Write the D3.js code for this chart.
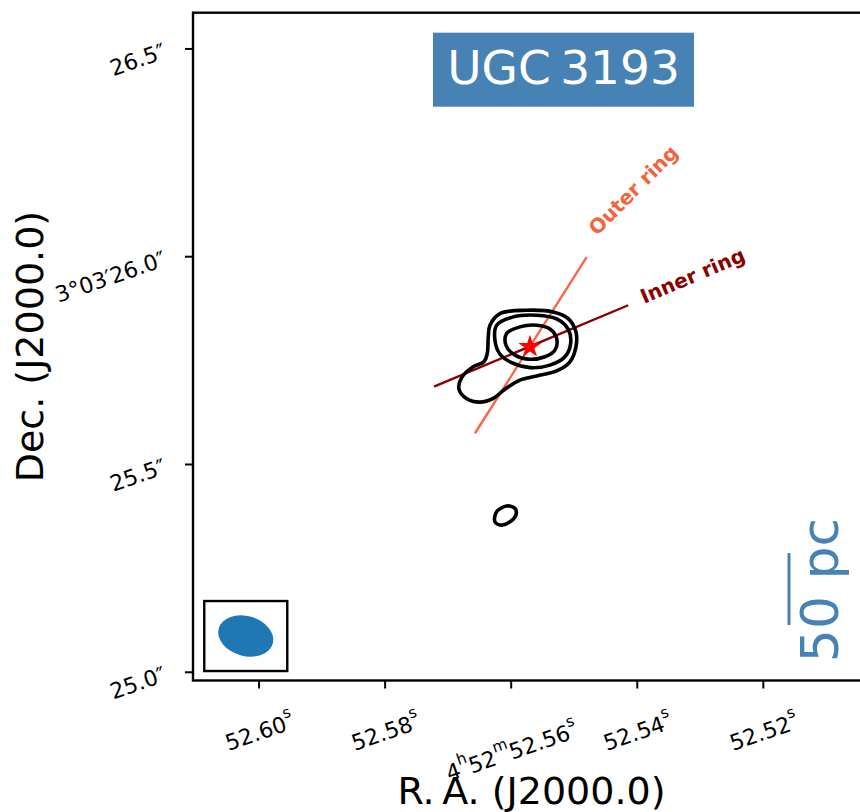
<!DOCTYPE html>
<html>
<head>
<meta charset="utf-8">
<script src="https://cdn.jsdelivr.net/npm/d3@7/dist/d3.min.js"></script>
<style>
  body { margin: 0; background: #ffffff; }
  text { font-family: "DejaVu Sans", sans-serif; }
</style>
</head>
<body>
<svg id="chart" width="860" height="812"></svg>
<script>
// ---- Coordinates: R.A. in seconds of 4h52m, Dec in arcsec of +3°03′ ----
const raTicks = [52.60, 52.58, 52.56, 52.54, 52.52];
const raTickLabels = ["52.60^s", "52.58^s", "4^h52^m52.56^s", "52.54^s", "52.52^s"];
const decTicks = [25.0, 25.5, 26.0, 26.5];
const decTickLabels = ["25.0″", "25.5″", "3°03′26.0″", "26.5″"];

// Axis limits
const raLimits = [52.6104, 52.5030];
const decLimits = [24.979, 26.586];

// Contours, lowest level first: [R.A. s, Dec ″]
const contourOuter = [
  [52.56356, 25.806], [52.56329, 25.834], [52.56170, 25.862], [52.55747, 25.870],
  [52.55325, 25.866], [52.55087, 25.850], [52.54965, 25.818], [52.54965, 25.782],
  [52.55060, 25.746], [52.55271, 25.724], [52.55588, 25.712], [52.55853, 25.702],
  [52.56091, 25.680], [52.56277, 25.658], [52.56487, 25.649], [52.56698, 25.657],
  [52.56821, 25.680], [52.56778, 25.708], [52.56594, 25.734], [52.56424, 25.746],
  [52.56372, 25.766]
];
const contourMiddle = [
  [52.56223, 25.834], [52.55959, 25.854], [52.55588, 25.858], [52.55271, 25.849],
  [52.55087, 25.824], [52.55049, 25.790], [52.55140, 25.758], [52.55377, 25.738],
  [52.55695, 25.732], [52.55985, 25.744], [52.56170, 25.764], [52.56250, 25.798]
];
const contourInner = [
  [52.56064, 25.814], [52.55853, 25.830], [52.55588, 25.834], [52.55377, 25.825],
  [52.55271, 25.802], [52.55298, 25.774], [52.55457, 25.758], [52.55695, 25.752],
  [52.55932, 25.762], [52.56075, 25.786]
];
const contourSouth = [
  [52.56250, 25.361], [52.56223, 25.385], [52.56064, 25.399], [52.55932, 25.393],
  [52.55917, 25.377], [52.56012, 25.361], [52.56143, 25.353]
];

// Nucleus position
const nucleus = [52.55695, 25.782];

// Major-axis position angles of the two rings
const innerRingAxis = [[52.57217, 25.686], [52.54136, 25.882]];
const outerRingAxis = [[52.56567, 25.574], [52.54795, 25.998]];
const ringLabels = [
  { text: "Inner ring", ra: 52.53887, dec: 25.885, angle: 23 },
  { text: "Outer ring", ra: 52.54632, dec: 26.048, angle: 45 }
];

// Synthesized beam (FWHM in arcsec, rotation in degrees) and its position
const beam = { major: 0.135, minor: 0.096, angle: 16, ra: 52.60203, dec: 25.086 };

// Scale bar: 50 pc in arcsec
const scaleBar = { label: "50 pc", arcsec: 0.173 };

const title = "UGC\u20093193";

// ---- Drawing ----
const svg = d3.select("#chart");
const W = 860, H = 812;
const frame = { left: 193, right: 870, top: 12.7, bottom: 680.5 };

const x = d3.scaleLinear().domain(raLimits).range([frame.left, frame.right]);
const y = d3.scaleLinear().domain(decLimits).range([frame.bottom, frame.top]);
const pxPerArcsec = Math.abs(y(1) - y(0));

svg.append("rect").attr("width", W).attr("height", H).attr("fill", "#ffffff");

const clipId = "plot-clip";
svg.append("clipPath").attr("id", clipId)
  .append("rect")
  .attr("x", frame.left).attr("y", frame.top)
  .attr("width", frame.right - frame.left).attr("height", frame.bottom - frame.top);

const plot = svg.append("g").attr("clip-path", `url(#${clipId})`);

// Ring axes
const straight = d3.line().x(d => x(d[0])).y(d => y(d[1]));
plot.append("path").attr("d", straight(outerRingAxis))
  .attr("fill", "none").attr("stroke", "#ff6347").attr("stroke-width", 2.4);
plot.append("path").attr("d", straight(innerRingAxis))
  .attr("fill", "none").attr("stroke", "#8b0000").attr("stroke-width", 2.4);

// Contours
const closed = d3.line().x(d => x(d[0])).y(d => y(d[1]))
  .curve(d3.curveCatmullRomClosed.alpha(0.5));
[contourOuter, contourMiddle, contourInner, contourSouth].forEach(c => {
  plot.append("path").attr("d", closed(c))
    .attr("fill", "none").attr("stroke", "#000000")
    .attr("stroke-width", 3.6).attr("stroke-linejoin", "round");
});

// Nucleus star
plot.append("path")
  .attr("d", d3.symbol().type(d3.symbolStar).size(165)())
  .attr("transform", `translate(${x(nucleus[0])},${y(nucleus[1])})`)
  .attr("fill", "#ff0000");

// Ring labels
ringLabels.forEach((l, i) => {
  plot.append("text")
    .attr("transform", `translate(${x(l.ra)},${y(l.dec)}) rotate(${-l.angle})`)
    .attr("font-size", 20).attr("font-weight", "bold")
    .attr("fill", i === 0 ? "#8b0000" : "#f4623e")
    .text(l.text);
});

// Title box
const titleBox = { cx: 563.5, cy: 69.7, w: 261, h: 74 };
svg.append("rect")
  .attr("x", titleBox.cx - titleBox.w / 2).attr("y", titleBox.cy - titleBox.h / 2)
  .attr("width", titleBox.w).attr("height", titleBox.h)
  .attr("fill", "#4682b4");
svg.append("text")
  .attr("x", titleBox.cx).attr("y", 83.5)
  .attr("text-anchor", "middle").attr("font-size", 47).attr("fill", "#ffffff")
  .text(title);

// Beam box and ellipse
const bx = x(beam.ra), by = y(beam.dec);
svg.append("rect")
  .attr("x", bx - 41.5).attr("y", by - 35).attr("width", 83).attr("height", 70)
  .attr("fill", "#ffffff").attr("stroke", "#000000").attr("stroke-width", 2.4);
svg.append("ellipse")
  .attr("cx", 0).attr("cy", 0)
  .attr("rx", beam.major / 2 * pxPerArcsec)
  .attr("ry", beam.minor / 2 * pxPerArcsec)
  .attr("transform", `translate(${bx},${by}) rotate(${beam.angle})`)
  .attr("fill", "#1f77b4");

// Scale bar
const barX = 789, barBottom = 625;
svg.append("line")
  .attr("x1", barX).attr("x2", barX)
  .attr("y1", barBottom).attr("y2", barBottom - scaleBar.arcsec * pxPerArcsec)
  .attr("stroke", "#4682b4").attr("stroke-width", 3);
svg.append("text")
  .attr("transform", "translate(838,590) rotate(-90)")
  .attr("text-anchor", "middle").attr("font-size", 52).attr("fill", "#4682b4")
  .text(scaleBar.label);

// Frame
svg.append("rect")
  .attr("x", frame.left).attr("y", frame.top)
  .attr("width", frame.right - frame.left).attr("height", frame.bottom - frame.top)
  .attr("fill", "none").attr("stroke", "#000000").attr("stroke-width", 2.4);

// Axes (ticks only; labels set separately)
const axLeft = svg.append("g").attr("transform", `translate(${frame.left},0)`)
  .call(d3.axisLeft(y).tickValues(decTicks).tickSize(8).tickFormat(""));
const axBottom = svg.append("g").attr("transform", `translate(0,${frame.bottom})`)
  .call(d3.axisBottom(x).tickValues(raTicks).tickSize(8).tickFormat(""));
[axLeft, axBottom].forEach(a => {
  a.select(".domain").remove();
  a.selectAll(".tick line").attr("stroke", "#000000").attr("stroke-width", 2);
});

// Writes a label with ^x superscripts into a text element
function richText(sel, str, size) {
  const parts = str.split(/\^(\w)/);
  const shift = size * 0.42;
  parts.forEach((p, i) => {
    if (!p) return;
    const sup = i % 2 === 1;
    const t = sel.append("tspan").text(p).attr("font-size", sup ? size * 0.7 : size);
    if (sup) t.attr("dy", -shift);
    else if (i > 0) t.attr("dy", shift);
  });
}

const tickFont = 22;
const rot = 19;
const sinR = Math.sin(rot * Math.PI / 180);

// Dec tick labels
decTicks.forEach((v, i) => {
  svg.append("text")
    .attr("transform", `translate(165,${y(v) + 2}) rotate(${-rot})`)
    .attr("text-anchor", "end").attr("dominant-baseline", "central")
    .attr("font-size", tickFont)
    .text(decTickLabels[i]);
});

// R.A. tick labels
raTicks.forEach((v, i) => {
  const t = svg.append("text")
    .attr("text-anchor", "middle").attr("dominant-baseline", "central")
    .attr("font-size", tickFont);
  richText(t, raTickLabels[i], tickFont);
  const len = t.node().getComputedTextLength();
  t.attr("transform", `translate(${x(v) + 1},${711 + len * 0.9 * sinR}) rotate(${-rot})`);
});

// Axis titles
svg.append("text")
  .attr("x", (frame.left + frame.right) / 2).attr("y", 804)
  .attr("text-anchor", "middle").attr("font-size", 38)
  .text("R.\u2009A. (J2000.0)");
svg.append("text")
  .attr("transform", `translate(43,${(frame.top + frame.bottom) / 2}) rotate(-90)`)
  .attr("text-anchor", "middle").attr("font-size", 38)
  .text("Dec. (J2000.0)");
</script>
</body>
</html>
